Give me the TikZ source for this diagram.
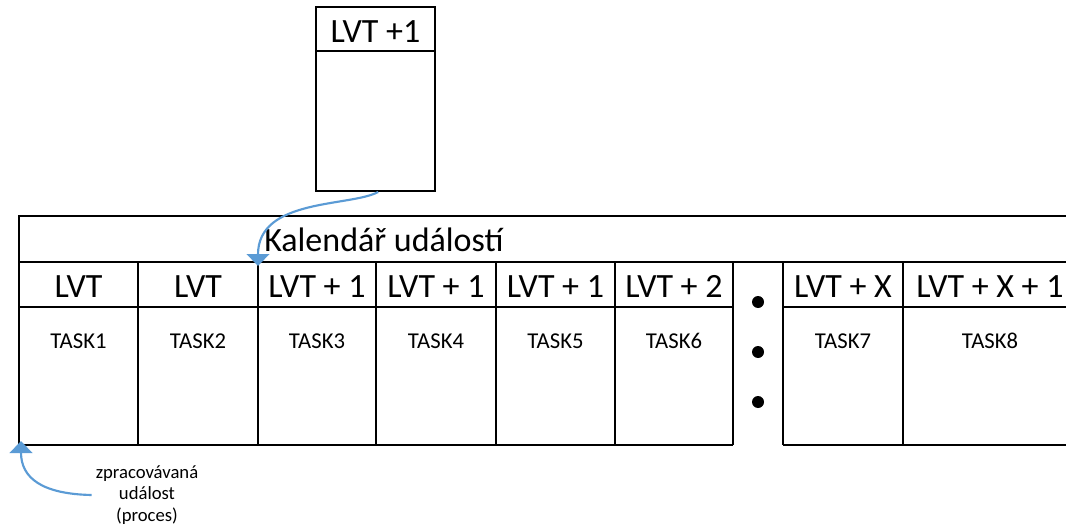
\documentclass[tikz,border=0pt]{standalone}
\usepackage{fontspec}
\setmainfont{Carlito}
\usetikzlibrary{arrows.meta}
\definecolor{arrowblue}{HTML}{5B9BD5}
\begin{document}
\begin{tikzpicture}[x=0.75pt,y=-0.75pt,
  grid/.style={draw=black,line width=1.5pt},
  head/.style={font=\fontsize{25.5}{30}\selectfont, anchor=base, inner sep=0pt},
  task/.style={font=\fontsize{17}{20}\selectfont, anchor=base, inner sep=0pt},
  note/.style={font=\fontsize{14}{16.3}\selectfont, align=center, inner sep=3pt},
  flow/.style={draw=arrowblue, line width=1.6pt, -{Triangle[width=17pt,length=9pt]}}]
\useasboundingbox (0,0) rectangle (1066,527);

% incoming event box
\node[grid, minimum width=89.25pt, minimum height=138pt, inner sep=0pt] (newev) at (375.5,99) {};
\draw[grid] ([yshift=-33.75pt]newev.north west) -- ([yshift=-33.75pt]newev.north east);
\node[head] (newhead) at (375.5,43) {LVT +1};

% calendar table
\draw[grid] (1066,216) -- (19,216) -- (19,445) -- (733,445);
\draw[grid] (19,262) -- (1066,262);
\draw[grid] (19,307) -- (733,307);
\draw[grid] (783,307) -- (1066,307);
\draw[grid] (783,445) -- (1066,445);
\foreach \x in {138,258,376,496,615,733,783,903}
  \draw[grid] (\x,262) -- (\x,445);

\node[head, anchor=base west] (cal) at (264,252) {Kalendář událostí};

% column headers
\node[head] (h1) at (78.5,297) {LVT};
\node[head] (h2) at (198,297) {LVT};
\node[head] (h3) at (317,297) {LVT + 1};
\node[head] (h4) at (436,297) {LVT + 1};
\node[head] (h5) at (555.5,297) {LVT + 1};
\node[head] (h6) at (674,297) {LVT + 2};
\node[head] (h7) at (843,297) {LVT + X};
\node[head] (h8) at (990,297) {LVT + X + 1};

% tasks
\node[task] (t1) at (78.5,348) {TASK1};
\node[task] (t2) at (198,348) {TASK2};
\node[task] (t3) at (317,348) {TASK3};
\node[task] (t4) at (436,348) {TASK4};
\node[task] (t5) at (555.5,348) {TASK5};
\node[task] (t6) at (674,348) {TASK6};
\node[task] (t7) at (843,348) {TASK7};
\node[task] (t8) at (990,348) {TASK8};

% ellipsis column
\foreach \y in {302,352,402}
  \fill (758,\y) circle (4.5pt);

% arrows
\coordinate (slot) at (258,266);
\draw[flow] ([xshift=2pt]newev.south) .. controls (350,207) and (258,198) .. (slot);

\node[note] (proc) at (147,495) {zpracovávaná\\událost\\(proces)};
\coordinate (cur) at (21,441);
\draw[flow] (proc.west) .. controls (42,494) and (21,478) .. (cur);
\end{tikzpicture}
\end{document}
